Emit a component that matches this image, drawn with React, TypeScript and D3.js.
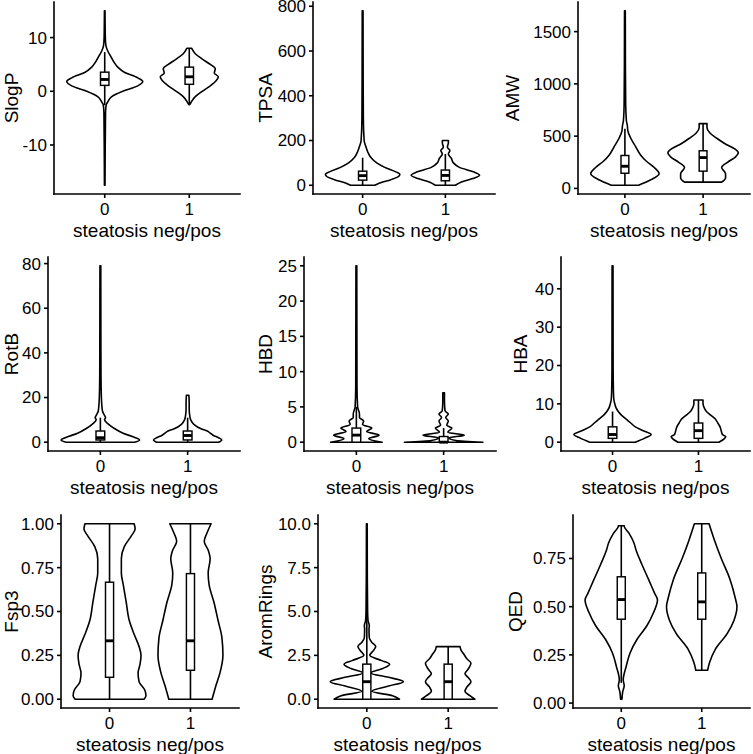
import React from "react";
import * as d3 from "d3";

// descriptor names and the two outcome groups
const metrics = ["SlogP", "TPSA", "AMW", "RotB", "HBD", "HBA", "Fsp3", "AromRings", "QED"];
const groups = ["0", "1"];
const xTitle = "steatosis neg/pos";

const tickLabels = [
  ["-10", "0", "10"],
  ["0", "200", "400", "600", "800"],
  ["0", "500", "1000", "1500"],
  ["0", "20", "40", "60", "80"],
  ["0", "5", "10", "15", "20", "25"],
  ["0", "10", "20", "30", "40"],
  ["0.00", "0.25", "0.50", "0.75", "1.00"],
  ["0.0", "2.5", "5.0", "7.5", "10.0"],
  ["0.00", "0.25", "0.50", "0.75"],
];

// violin profiles: [value, relative density] for group 0 and group 1
const densSlogP = [
  [[-17.5, 0.3], [-10, 0.5], [-4, 0.8], [-2.5, 1.5], [-2, 3], [-1, 7], [0, 18], [1, 33], [1.8, 38], [2.5, 33], [3.5, 20], [4.5, 13], [5.5, 9], [6.5, 6], [7.5, 3], [8.5, 1.2], [10, 0.6], [15, 0.3]],
  [[-2.5, 0.5], [-2, 2], [-1, 6], [0, 13], [1, 21], [2, 27], [2.7, 29], [3.4, 25], [4.2, 26], [5, 21], [6, 13], [7, 6], [7.8, 3], [8, 2.5]],
];
const densTPSA = [
  [[0, 12], [10, 17], [25, 28], [40, 36], [50, 37], [60, 33], [80, 22], [100, 14], [125, 8], [150, 5], [175, 3], [200, 1.5], [300, 0.7], [500, 0.5], [780, 0.4]],
  [[0, 10], [15, 16], [30, 27], [45, 34], [60, 28], [80, 14], [100, 8], [120, 6], [140, 3], [155, 4.5], [170, 2], [190, 3], [200, 3]],
];
const densAMW = [
  [[30, 14], [80, 26], [140, 35], [200, 30], [260, 22], [320, 16], [400, 11], [480, 6], [550, 3], [600, 2.5], [650, 1.5], [800, 0.8], [1200, 0.5], [1700, 0.4]],
  [[60, 19], [100, 23], [140, 23], [200, 19], [250, 25], [300, 33], [340, 36], [380, 32], [430, 22], [480, 14], [530, 7], [580, 4], [620, 4]],
];
const densRotB = [
  [[0, 33], [1, 38], [2, 34], [4, 22], [6, 14], [8, 8], [10, 4], [11, 5], [12, 4], [14, 2], [20, 1], [30, 0.6], [79, 0.4]],
  [[0, 30], [1, 33], [2, 30], [3, 25], [4, 22], [5, 19], [6, 13], [8, 6], [10, 3], [12, 2], [15, 1.5], [18, 1.5], [21, 1.2]],
];
const densHBD = [
  [[0, 25], [0.5, 12], [1, 22], [1.5, 10], [2, 15], [2.5, 6], [3, 7], [3.5, 3], [4, 3], [5, 1.2], [8, 0.6], [25, 0.4]],
  [[0, 38], [0.25, 12], [0.6, 5], [1, 20], [1.4, 4], [2, 8], [2.4, 3], [3, 4.5], [3.5, 2], [4, 4.5], [4.4, 1.5], [5, 1], [6, 0.8], [7, 0.8]],
];
const densHBA = [
  [[0, 20], [1, 28], [2, 34], [3, 27], [4, 20], [5, 16], [6, 12], [7, 8], [8, 5], [9, 3], [10, 2], [11, 1.2], [13, 0.8], [20, 0.5], [46, 0.4]],
  [[0, 18], [1, 23], [1.5, 24], [2, 21], [3, 20], [4, 19], [5, 17], [6, 15], [7, 11], [8, 7], [9, 5], [10, 4], [11, 4]],
];
const densFsp3 = [
  [[0, 35], [0.02, 37], [0.05, 36], [0.1, 30], [0.15, 29], [0.2, 31], [0.25, 32], [0.3, 30], [0.37, 25], [0.45, 20], [0.55, 17], [0.65, 14], [0.72, 12], [0.8, 12], [0.87, 15], [0.93, 22], [0.97, 26], [1, 25]],
  [[0, 22], [0.08, 26], [0.15, 30], [0.25, 33], [0.35, 32], [0.45, 28], [0.55, 24], [0.65, 19], [0.72, 18], [0.8, 20], [0.85, 18], [0.9, 14], [0.95, 17], [1, 21]],
];
const densAromRings = [
  [[0, 33], [0.2, 26], [0.45, 5], [0.75, 22], [1, 37], [1.25, 22], [1.5, 4], [1.75, 16], [2, 23], [2.2, 15], [2.5, 3], [2.8, 7], [3, 9], [3.25, 5], [3.5, 2.5], [4, 2.2], [4.2, 2.5], [4.5, 1.2], [5, 0.8], [7, 0.5], [10, 0.4]],
  [[0, 27], [0.2, 22], [0.45, 17], [0.7, 19], [1, 23], [1.25, 20], [1.45, 17], [1.7, 20], [2.05, 23], [2.3, 19], [2.55, 16], [2.8, 13], [3, 12]],
];
const densQED = [
  [[0.02, 0.7], [0.06, 1.5], [0.09, 3], [0.12, 2], [0.19, 5], [0.26, 9], [0.33, 16], [0.4, 26], [0.47, 33], [0.535, 37], [0.57, 34], [0.64, 28], [0.72, 21], [0.795, 15], [0.83, 13], [0.88, 8], [0.917, 3], [0.92, 3]],
  [[0.17, 6], [0.21, 8], [0.28, 14], [0.36, 26], [0.43, 33], [0.5, 36], [0.55, 34], [0.64, 29], [0.75, 20], [0.845, 13], [0.93, 7.5]],
];
const densities = [densSlogP, densTPSA, densAMW, densRotB, densHBD, densHBA, densFsp3, densAromRings, densQED];

// boxplot stats per metric: [group0, group1]
const q1 = [[1.1, 1.3], [23, 20], [145, 165], [1, 1], [0, 0], [1, 1], [0.125, 0.165], [0, 0], [0.435, 0.435]];
const medians = [[2.2, 2.7], [43, 44], [212, 295], [2, 3], [1, 0], [2, 3], [0.333, 0.333], [1, 1], [0.537, 0.525]];
const q3 = [[3.56, 4.5], [63, 68], [315, 360], [5, 5], [2, 0.8], [4, 5], [0.667, 0.716], [2, 2], [0.655, 0.675]];
const whiskLow = [[-2.6, -2.5], [0, 0], [30, 60], [0, 0], [0, 0], [0, 0], [0, 0], [0, 0], [0.105, 0.17]];
const whiskHigh = [[7.3, 8], [123, 140], [570, 620], [11, 11], [5, 2], [8, 11], [1, 1], [5, 3], [0.92, 0.93]];

// layout
const panelLeft = [54, 313, 578, 48, 304, 561, 61, 318, 573];
const panelRight = [240, 495, 750, 240, 496, 750, 239, 497, 750];
const rowTop = [2, 257, 515];
const rowBottom = [194, 451, 708];
const titleX = [17.5, 271.6, 518.6, 17.5, 271.6, 526.6, 17.5, 271.6, 521.6];

const font = "'Liberation Sans', Arial, Helvetica, sans-serif";
const lw = 1.6;

function Panel({ i }: { i: number }) {
  const row = Math.floor(i / 3);
  const top = rowTop[row];
  const bottom = rowBottom[row];
  const left = panelLeft[i];
  const right = panelRight[i];
  const dens = densities[i] as [number, number][][];

  const all = dens.flat();
  const [lo, hi] = d3.extent(all, (d) => d[0]) as [number, number];
  const pad = (hi - lo) * 0.05;
  const y = d3.scaleLinear().domain([lo - pad, hi + pad]).range([bottom, top]);
  const x = d3.scalePoint().domain(groups).range([left, right]).padding(0.6);
  const step = x.step();
  const w = d3
    .scaleLinear()
    .domain([0, d3.max(all, (d) => d[1]) as number])
    .range([0, step * 0.45]);
  const boxHalf = step * 0.05;

  return (
    <g>
      {groups.map((g, gi) => {
        const cx = x(g) as number;
        const area = d3
          .area<[number, number]>()
          .curve(d3.curveMonotoneY)
          .y((d) => y(d[0]))
          .x0((d) => cx - w(d[1]))
          .x1((d) => cx + w(d[1]));
        return (
          <g key={g}>
            <path d={area(dens[gi]) || ""} fill="#fff" stroke="#000" strokeWidth={lw} strokeLinejoin="round" />
            <line x1={cx} x2={cx} y1={y(whiskLow[i][gi])} y2={y(whiskHigh[i][gi])} stroke="#000" strokeWidth={lw} />
            <rect
              x={cx - boxHalf}
              width={boxHalf * 2}
              y={y(q3[i][gi])}
              height={Math.max(0, y(q1[i][gi]) - y(q3[i][gi]))}
              fill="#fff"
              stroke="#000"
              strokeWidth={lw * 0.9}
            />
            <line x1={cx - boxHalf} x2={cx + boxHalf} y1={y(medians[i][gi])} y2={y(medians[i][gi])} stroke="#000" strokeWidth={lw * 1.8} />
          </g>
        );
      })}
      <line x1={left} x2={left} y1={top} y2={bottom} stroke="#000" strokeWidth={lw} strokeLinecap="square" />
      <line x1={left} x2={right} y1={bottom} y2={bottom} stroke="#000" strokeWidth={lw} strokeLinecap="square" />
      {tickLabels[i].map((t) => (
        <g key={t}>
          <line x1={left - 4} x2={left} y1={y(+t)} y2={y(+t)} stroke="#000" strokeWidth={lw} />
          <text x={left - 7} y={y(+t)} dy="0.35em" textAnchor="end" fontSize={17} fill="#000">
            {t}
          </text>
        </g>
      ))}
      {groups.map((g) => (
        <g key={"x" + g}>
          <line x1={x(g)} x2={x(g)} y1={bottom} y2={bottom + 4} stroke="#000" strokeWidth={lw} />
          <text x={x(g)} y={bottom + 20.5} textAnchor="middle" fontSize={17} fill="#000">
            {g}
          </text>
        </g>
      ))}
      <text x={(left + right) / 2} y={bottom + 42.5} textAnchor="middle" fontSize={19} fill="#000">
        {xTitle}
      </text>
      <text
        transform={`translate(${titleX[i]},${(top + bottom) / 2}) rotate(-90)`}
        textAnchor="middle"
        fontSize={19}
        fill="#000"
      >
        {metrics[i]}
      </text>
    </g>
  );
}

export default function App() {
  return (
    <svg
      width={753}
      height={754}
      style={{ position: "absolute", left: 0, top: 0, background: "#fff", fontFamily: font }}
    >
      {metrics.map((m, i) => (
        <Panel key={m} i={i} />
      ))}
    </svg>
  );
}
